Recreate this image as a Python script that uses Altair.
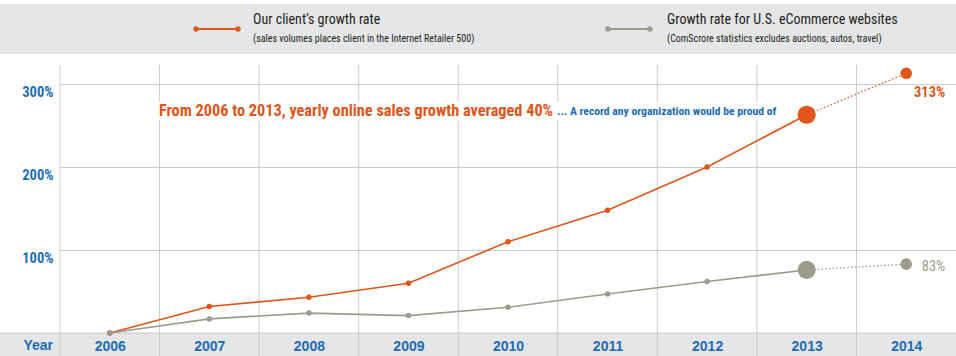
import altair as alt
import pandas as pd

# ---------------- data ----------------
years = [2006, 2007, 2008, 2009, 2010, 2011, 2012, 2013, 2014]
client_growth = [0, 32, 43, 60, 110, 148, 200, 263, 313]
ecommerce_growth = [0, 17, 24, 21, 31, 47, 62, 76, 83]
series_keys = ["client", "ecommerce"]
legend_titles = ["Our client\u2019s growth rate", "Growth rate for U.S. eCommerce websites"]
legend_subtitles = ["(sales volumes places client in the Internet Retailer 500)",
                    "(ComScrore statistics excludes auctions, autos, travel)"]
y_ticks = [100, 200, 300]
headline = "From 2006 to 2013, yearly online sales growth averaged 40%"
tagline = "... A record any organization would be proud of"

# ---------------- style ----------------
ORANGE = "#e0561a"
GRAY = "#9c9b8c"
BLUE = "#1d6db5"
GRID = "#cccccc"
BAND = "#e5e6e7"
NARROW = "Roboto Condensed, Liberation Sans Narrow, Roboto, sans-serif"
BOLD = "Liberation Sans, Arial, sans-serif"
W, H = 896, 268

df = pd.DataFrame({
    "year": years * 2,
    "value": client_growth + ecommerce_growth,
    "series": [series_keys[0]] * len(years) + [series_keys[1]] * len(years),
})
yr = pd.DataFrame({"year": years})
one = pd.DataFrame({"k": [0]})

xs = alt.Scale(domain=[2005.5, 2014.5], nice=False, zero=False)
ys = alt.Scale(domain=[0, 323], nice=False)
color = alt.Color("series:N", scale=alt.Scale(domain=series_keys, range=[ORANGE, GRAY]), legend=None)

X = alt.X("year:Q", scale=xs, axis=alt.Axis(values=years, format="d", labelFont=BOLD, labelFontSize=14,
                                             labelFontWeight="bold", labelColor=BLUE, labelPadding=6,
                                             domain=False, ticks=False, grid=False, title=None, zindex=2))
Y = alt.Y("value:Q", scale=ys, axis=alt.Axis(values=y_ticks, labelExpr="datum.value + '%'", labelFont=NARROW,
                                              labelFontSize=14.5, labelFontWeight="bold", labelColor=BLUE,
                                              labelBaseline="top", labelOffset=1, labelPadding=7,
                                              grid=True, gridColor=GRID, domain=False, ticks=False, title=None))

# decorative bands
header_band = alt.Chart(one).mark_rect(color=BAND).encode(
    x=alt.value(-60), x2=alt.value(W), y=alt.value(-61), y2=alt.value(-11))
year_band = alt.Chart(one).mark_rect(fill=BAND, stroke="#c4c4c4", strokeWidth=1).encode(
    x=alt.value(-61), x2=alt.value(W + 1), y=alt.value(H), y2=alt.value(H + 24))

vrules = alt.Chart(yr).transform_calculate(b="datum.year - 0.5").mark_rule(color=GRID, strokeWidth=1).encode(
    x=alt.X("b:Q", scale=xs), y=alt.value(0), y2=alt.value(H + 23))

white_box = alt.Chart(one).mark_rect(color="white").encode(
    x=alt.value(92), x2=alt.value(722), y=alt.value(37), y2=alt.value(55))

base = alt.Chart(df).encode(x=X, y=Y, color=color, detail="series:N")

solid = base.transform_filter("datum.year <= 2013").mark_line(strokeWidth=1.6)
dotted = base.transform_filter("datum.year >= 2013").mark_line(strokeWidth=1.3, strokeDash=[1.5, 2.2])
pts_small = base.transform_filter("datum.year <= 2012").mark_circle(size=30, opacity=1)
pts_2013 = base.transform_filter("datum.year == 2013").mark_circle(size=330, opacity=1)
pts_2014 = base.transform_filter("datum.year == 2014").mark_circle(size=135, opacity=1)

lab_client = base.transform_filter("datum.year == 2014 && datum.series == 'client'").transform_calculate(
    t="datum.value + '%'").mark_text(align="right", baseline="middle", dx=39, dy=20, font=NARROW,
                                     fontSize=14.5, fontWeight="bold").encode(text="t:N")
lab_ecom = base.transform_filter("datum.year == 2014 && datum.series == 'ecommerce'").transform_calculate(
    t="datum.value + '%'").mark_text(align="right", baseline="middle", dx=39, dy=3, font=NARROW,
                                     fontSize=14.5, fontWeight="normal").encode(text="t:N")

head_txt = alt.Chart(one).mark_text(align="right", baseline="middle", font=NARROW, fontSize=16.3,
                                    fontWeight="bold", color=ORANGE, text=headline).encode(
    x=alt.value(493), y=alt.value(46))
tag_txt = alt.Chart(one).mark_text(align="left", baseline="middle", font=NARROW, fontSize=11.7,
                                   fontWeight="bold", color=BLUE, text=tagline).encode(
    x=alt.value(497), y=alt.value(46))

year_lbl = alt.Chart(one).mark_text(align="right", baseline="middle", font=BOLD, fontSize=14,
                                    fontWeight="bold", color=BLUE, text="Year").encode(
    x=alt.value(-7), y=alt.value(H + 13))

# legend
legend_layers = []
for i, (c, lx, tx) in enumerate([(ORANGE, 136, 193), (GRAY, 548, 607)]):
    legend_layers.append(alt.Chart(one).mark_rule(color=c, strokeWidth=2).encode(
        x=alt.value(lx), x2=alt.value(lx + 42), y=alt.value(-36)))
    legend_layers.append(alt.Chart(one).mark_circle(color=c, size=28, opacity=1).encode(
        x=alt.value(lx), y=alt.value(-36)))
    legend_layers.append(alt.Chart(one).mark_circle(color=c, size=28, opacity=1).encode(
        x=alt.value(lx + 42), y=alt.value(-36)))
    legend_layers.append(alt.Chart(one).mark_text(align="left", baseline="middle", font=NARROW, fontSize=14,
                                                  color="#231f20", text=legend_titles[i]).encode(
        x=alt.value(tx), y=alt.value(-45)))
    legend_layers.append(alt.Chart(one).mark_text(align="left", baseline="middle", font=NARROW, fontSize=10,
                                                  color="#231f20", text=legend_subtitles[i]).encode(
        x=alt.value(tx), y=alt.value(-26)))

chart = alt.layer(
    header_band, year_band, vrules, white_box, solid, dotted, pts_small, pts_2013, pts_2014,
    lab_client, lab_ecom, head_txt, tag_txt, year_lbl, *legend_layers
).properties(
    width=W, height=H,
    autosize=alt.AutoSizeParams(type="none"),
    padding={"left": 60, "top": 65, "right": 0, "bottom": 23},
    background="white",
).configure_view(stroke=None)

chart.save("out.html", embed_options={"renderer": "svg", "actions": False})
